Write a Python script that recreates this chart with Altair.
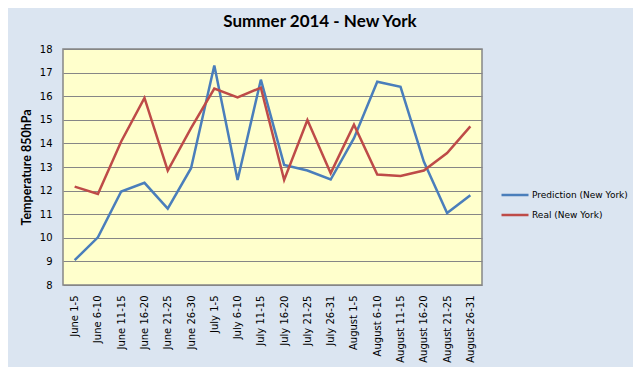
import altair as alt
import pandas as pd

categories = ["June 1-5", "June 6-10", "June 11-15", "June 16-20", "June 21-25", "June 26-30",
              "July 1-5", "July 6-10", "July 11-15", "July 16-20", "July 21-25", "July 26-31",
              "August 1-5", "August 6-10", "August 11-15", "August 16-20", "August 21-25", "August 26-31"]
prediction = [9.05, 10.02, 11.96, 12.33, 11.24, 12.95, 17.30, 12.45, 16.70, 13.09,
              12.85, 12.47, 14.22, 16.61, 16.40, 13.23, 11.05, 11.80]
real = [12.17, 11.86, 14.08, 15.93, 12.85, 14.65, 16.32, 15.95, 16.36, 12.45,
        14.99, 12.74, 14.79, 12.68, 12.62, 12.85, 13.59, 14.72]
series_names = ["Prediction (New York)", "Real (New York)"]
series_colors = ["#4A7EBB", "#BE4B48"]

rows = []
for name, vals in zip(series_names, [prediction, real]):
    for c, v in zip(categories, vals):
        rows.append({"period": c, "temp": v, "series": name})
df = pd.DataFrame(rows)

chart = alt.Chart(df).mark_line(strokeWidth=2.5).encode(
    x=alt.X("period:N", sort=categories, title=None,
            axis=alt.Axis(labelAngle=-90, labelFont="DejaVu Sans", labelFontSize=10,
                          labelColor="#000000", labelPadding=10, domain=False, ticks=False,
                          grid=False)),
    y=alt.Y("temp:Q", title="Temperature 850hPa",
            scale=alt.Scale(domain=[8, 18], nice=False, zero=False),
            axis=alt.Axis(values=list(range(8, 19)), labelFont="DejaVu Sans", labelFontSize=10,
                          labelColor="#000000", labelPadding=11, domain=False, ticks=False,
                          grid=True, gridColor="#868686", gridWidth=1, gridOpacity=1,
                          titleFont="Lato", titleFontSize=12.5, titleFontWeight="bold",
                          titleColor="#000000", titlePadding=6)),
    color=alt.Color("series:N", scale=alt.Scale(domain=series_names, range=series_colors),
                    legend=alt.Legend(title=None, orient="none", legendX=437, legendY=131,
                                      symbolType="stroke", symbolSize=729, symbolStrokeWidth=2.5,
                                      labelFont="DejaVu Sans", labelFontSize=9,
                                      labelColor="#000000", labelOffset=2, rowPadding=-1)),
).properties(
    width=419, height=236,
    title=alt.TitleParams("Summer 2014 - New York", font="Lato", fontSize=17, fontWeight="bold",
                          color="#000000", anchor="middle", dx=47.5, offset=13),
    autosize=alt.AutoSizeParams(type="none"),
    padding={"left": 55, "top": 41, "right": 151, "bottom": 82},
    background="#DBE5F1",
).configure_view(
    fill="#FFFFCC", stroke="#868686", strokeWidth=1.5
)

chart.save("out.html", embed_options={"renderer": "svg", "actions": False})
